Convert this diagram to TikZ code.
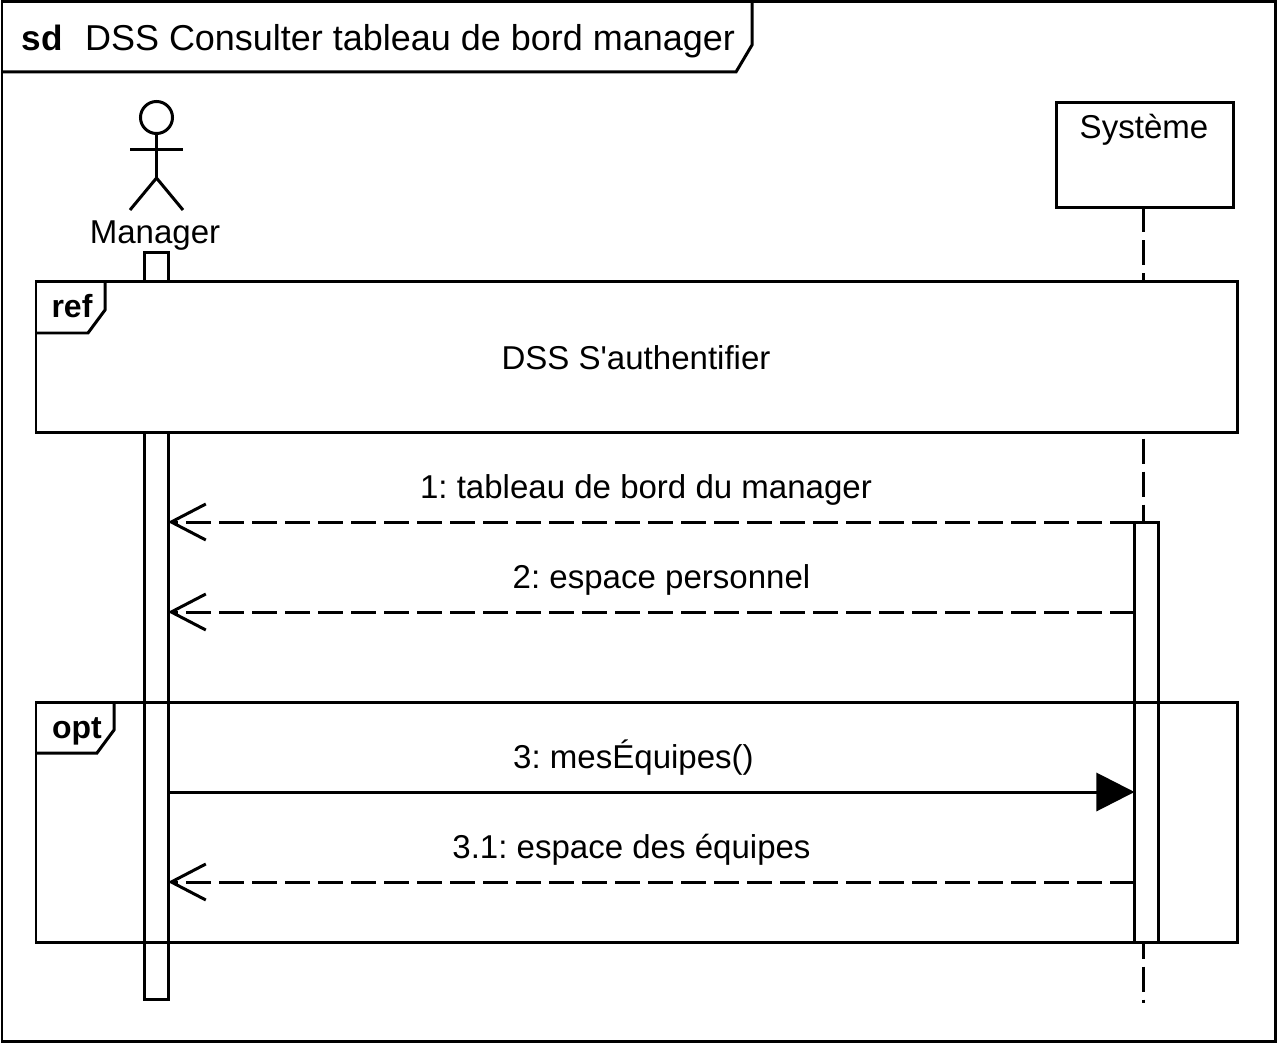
\documentclass[tikz,border=0pt]{standalone}
\usepackage{fontspec}
\setmainfont{Liberation Sans}
\usetikzlibrary{arrows.meta}
\frenchspacing

\begin{document}
\begin{tikzpicture}[
  x=0.03cm, y=-0.03cm,
  line width=2.56pt,
  label/.style={font=\fontsize{28.2}{32}\selectfont, inner sep=0pt, anchor=base},
  tag/.style={font=\bfseries\fontsize{27.3}{32}\selectfont, inner sep=0pt, anchor=base},
  lifeline/.style={dash pattern=on 25*0.03cm off 8*0.03cm},
  bar/.style={draw, rectangle, fill=white, inner sep=0pt, outer sep=0pt, minimum width=24*0.03cm},
  fragment/.style={draw, rectangle, inner sep=0pt, outer sep=0pt, minimum width=1201*0.03cm},
  reply/.style={dash pattern=on 25*0.03cm off 8*0.03cm, -{Straight Barb[length=29.5pt, width=30.7pt, line width=2.56pt]}},
  call/.style={-{Triangle[length=32.5pt, width=32.5pt]}}
]

\useasboundingbox (0,0) rectangle (1278,1044);
\fill[white] (0,0) rectangle (1278,1044);

% outer frame
\node[draw, rectangle, inner sep=0pt, outer sep=0pt, minimum width=1273*0.03cm, minimum height=1039*0.03cm] (frame) at (638.5,521.5) {};
\draw (frame.north west |- 0,72) -- (736,72) -- (752,45) -- (752,2);
\node[tag, font=\bfseries\fontsize{30}{32}\selectfont] (sdTag) at (42.5,51) {sd};
\node[label, font=\fontsize{30.7}{36}\selectfont] (sdTitle) at (410,51) {DSS Consulter tableau de bord manager};

% manager
\node[draw, circle, inner sep=0pt, outer sep=0pt, minimum size=32*0.03cm] (head) at (156.5,117.5) {};
\coordinate (hip) at (156.5,178);
\draw (head.south) -- (hip);
\draw (130,150) -- (183,150);
\draw (130,210) -- (hip) -- (183,210);
\node[label] (manager) at (155,244) {Manager};

% systeme
\node[draw, rectangle, inner sep=0pt, outer sep=0pt, minimum width=177*0.03cm, minimum height=105*0.03cm] (system) at (1144.5,155) {};
\node[label] (systemText) at (1144,139) {Système};
\coordinate (systemEnd) at (1143,1003);
\draw[lifeline] (system.south -| systemEnd) -- (systemEnd);

\node[bar, minimum height=746*0.03cm] (mgrBar) at (156,626) {};

\node[fragment, fill=white, minimum height=150*0.03cm] (refBox) at (636.5,357) {};
\draw (36,333) -- (88,333) -- (105,310) -- (105,282);
\node[tag] (refTag) at (72,318) {ref};
\node[label] (refText) at (636,369) {DSS S\textquotesingle authentifier};

\node[bar, minimum height=420*0.03cm] (sysBar) at (1146.5,732) {};

% messages
\coordinate (m1) at (0,522);
\coordinate (m2) at (0,612);
\coordinate (m3) at (0,792);
\coordinate (m4) at (0,882);

\draw[reply] (sysBar.north west |- m1) -- (mgrBar.east |- m1);
\node[label] (m1Text) at (646,498) {1: tableau de bord du manager};
\draw[reply] (sysBar.west |- m2) -- (mgrBar.east |- m2);
\node[label] (m2Text) at (661.5,588) {2: espace personnel};

\node[fragment, minimum height=240*0.03cm] (optBox) at (636.5,822) {};
\draw (36,753) -- (97,753) -- (114,730) -- (114,702);
\node[tag] (optTag) at (77,738) {opt};

\draw[call] (mgrBar.east |- m3) -- (sysBar.west |- m3);
\node[label] (m3Text) at (633.5,768) {3: mesÉquipes()};
\draw[reply] (sysBar.west |- m4) -- (mgrBar.east |- m4);
\node[label] (m4Text) at (631.5,858) {3.1: espace des équipes};

\end{tikzpicture}
\end{document}
